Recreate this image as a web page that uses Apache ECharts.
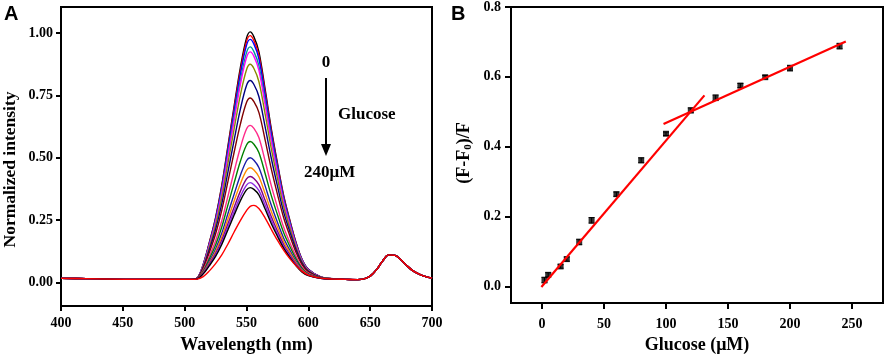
<!DOCTYPE html>
<html>
<head>
<meta charset="utf-8">
<script src="https://cdn.jsdelivr.net/npm/echarts@6/dist/echarts.min.js"></script>
<style>
html, body { margin: 0; padding: 0; background: #fff; }
#chart { width: 886px; height: 359px; }
</style>
</head>
<body>
<div id="chart"></div>
<script>
// ---- panel A: normalized emission spectra, 0 -> 240 uM glucose ----
const waveLeft = [400, 420, 440, 460, 480, 500]
const baseLeft = [0.016, 0.015, 0.013, 0.012, 0.012, 0.012]
const wavePeak = [505, 510, 515, 520, 525, 530, 535, 540, 545, 550, 553, 556, 560, 565, 570, 575, 580, 585, 590, 595, 600, 610, 620]
const waveRight = [630, 640, 645, 650, 655, 660, 665, 670, 675, 680, 685, 690, 695, 700]
const baseRight = [0.012, 0.011, 0.014, 0.025, 0.05, 0.085, 0.11, 0.108, 0.09, 0.065, 0.045, 0.032, 0.023, 0.017]

const peakCurves = [
  [.012, .017, .072, .161, .260, .389, .548, .707, .861, .980, 1.005, .985, .926, .777, .618, .479, .350, .250, .161, .091, .052, .022, .015],
  [.012, .017, .071, .159, .257, .384, .540, .697, .848, .966, .990, .970, .912, .765, .609, .472, .345, .247, .159, .090, .051, .022, .015],
  [.012, .017, .070, .156, .253, .378, .532, .686, .835, .951, .975, .956, .898, .754, .599, .465, .339, .243, .156, .089, .051, .022, .015],
  [.012, .017, .068, .152, .245, .367, .516, .665, .810, .922, .945, .926, .870, .730, .581, .451, .329, .236, .152, .087, .049, .021, .015],
  [.012, .017, .067, .149, .240, .359, .505, .651, .793, .902, .925, .907, .852, .715, .569, .441, .322, .231, .149, .085, .049, .021, .015],
  [.012, .016, .064, .141, .228, .340, .478, .616, .750, .853, .875, .858, .806, .677, .538, .418, .305, .219, .141, .081, .047, .021, .015],
  [.012, .016, .060, .132, .212, .315, .443, .571, .694, .790, .810, .794, .746, .626, .499, .387, .283, .204, .132, .076, .044, .020, .014],
  [.012, .016, .056, .121, .194, .289, .405, .522, .634, .722, .740, .725, .682, .573, .456, .354, .260, .187, .121, .070, .041, .019, .014],
  [.012, .015, .049, .105, .167, .247, .346, .445, .540, .615, .630, .618, .581, .488, .389, .302, .222, .160, .105, .061, .037, .018, .014],
  [.012, .015, .045, .095, .150, .222, .311, .399, .485, .551, .565, .554, .521, .438, .349, .272, .200, .145, .095, .056, .034, .018, .014],
  [.012, .014, .041, .085, .134, .197, .276, .354, .429, .488, .500, .490, .461, .388, .310, .241, .178, .129, .085, .051, .032, .017, .013],
  [.012, .014, .039, .079, .124, .182, .254, .326, .395, .449, .460, .451, .424, .357, .285, .223, .164, .120, .079, .048, .030, .016, .013],
  [.012, .014, .037, .074, .115, .169, .235, .301, .365, .415, .425, .417, .392, .330, .264, .206, .152, .111, .074, .045, .029, .016, .013],
  [.012, .014, .035, .070, .109, .159, .222, .284, .344, .390, .400, .392, .369, .311, .249, .194, .144, .105, .070, .043, .028, .016, .013],
  [.012, .014, .034, .067, .104, .152, .211, .270, .327, .371, .380, .373, .351, .295, .236, .185, .137, .100, .067, .041, .027, .016, .013],
  [.012, .013, .023, .046, .075, .110, .154, .202, .248, .288, .305, .309, .296, .259, .213, .169, .129, .095, .067, .044, .029, .017, .013]
]
const curveColors = ['#000000', '#ff0000', '#0000ff', '#009999', '#ff00ff', '#8a8a00', '#000080', '#800000',
  '#ff2a8a', '#008000', '#1c1ca8', '#ff8c00', '#800080', '#8a2be2', '#000000', '#ff0000']

const yTicksA = [0, 0.25, 0.5, 0.75, 1.0]

// ---- panel B: (F-F0)/F vs glucose ----
const glucose = [2, 5, 15, 20, 30, 40, 60, 80, 100, 120, 140, 160, 180, 200, 240]
const ratio = [0.018, 0.033, 0.057, 0.078, 0.127, 0.189, 0.264, 0.361, 0.437, 0.504, 0.540, 0.575, 0.599, 0.625, 0.688]
const ratioErr = [0.008, 0.006, 0.005, 0.006, 0.008, 0.008, 0.006, 0.007, 0.005, 0.007, 0.008, 0.006, 0.005, 0.008, 0.008]
const fitLow = [[-0.5, -0.002], [131, 0.547]]
const fitHigh = [[98, 0.465], [245, 0.701]]
const xTicksB = [0, 50, 100, 150, 200, 250]
const yTicksB = [0, 0.2, 0.4, 0.6, 0.8]

const serif = "'Liberation Serif', 'DejaVu Serif', serif"
const labelStyle = { color: '#000', fontFamily: serif, fontWeight: 'bold', fontSize: 14 }
const nameStyle = { color: '#000', fontFamily: serif, fontWeight: 'bold', fontSize: 18 }
const blackLine = { onZero: false, lineStyle: { color: '#000', width: 2 } }

let chart = echarts.init(document.getElementById('chart'))

const spectraSeries = peakCurves.map((vals, i) => {
  const xs = waveLeft.concat(wavePeak, waveRight)
  const ys = baseLeft.concat(vals, baseRight)
  return {
    type: 'line',
    xAxisIndex: 0,
    yAxisIndex: 0,
    data: xs.map((x, j) => [x, ys[j]]),
    showSymbol: false,
    smooth: 0.35,
    lineStyle: { color: curveColors[i], width: 1.4 },
    animation: false
  }
})

let option = {
  animation: false,
  grid: [
    { left: 60, top: 7, width: 372, height: 301, show: true, borderColor: '#000', borderWidth: 2 },
    { left: 511, top: 7, width: 372, height: 302, show: true, borderColor: '#000', borderWidth: 2 }
  ],
  xAxis: [
    {
      gridIndex: 0, type: 'value', min: 400, max: 700, interval: 50,
      axisLine: blackLine,
      axisTick: { length: 5, lineStyle: { color: '#000', width: 2 } },
      axisLabel: Object.assign({ margin: 10 }, labelStyle),
      splitLine: { show: false },
      name: 'Wavelength (nm)', nameLocation: 'middle', nameGap: 30, nameTextStyle: nameStyle
    },
    {
      gridIndex: 1, type: 'value', min: -25, max: 275,
      axisLine: blackLine,
      axisTick: { length: 6, customValues: xTicksB, lineStyle: { color: '#000', width: 2 } },
      axisLabel: Object.assign({ margin: 14, customValues: xTicksB }, labelStyle),
      splitLine: { show: false },
      name: 'Glucose (\u03bcM)', nameLocation: 'middle', nameGap: 32, nameTextStyle: nameStyle
    }
  ],
  yAxis: [
    {
      gridIndex: 0, type: 'value', min: -0.095, max: 1.105,
      axisLine: blackLine,
      axisTick: { length: 5, customValues: yTicksA, lineStyle: { color: '#000', width: 2 } },
      axisLabel: Object.assign({ margin: 8, customValues: yTicksA, formatter: v => v.toFixed(2) }, labelStyle),
      splitLine: { show: false },
      name: 'Normalized intensity', nameLocation: 'middle', nameGap: 42,
      nameTextStyle: Object.assign({}, nameStyle, { fontSize: 17.5, padding: [0, 26, 0, 0] })
    },
    {
      gridIndex: 1, type: 'value', min: -0.048, max: 0.8,
      axisLine: blackLine,
      axisTick: { length: 6, customValues: yTicksB, lineStyle: { color: '#000', width: 2 } },
      axisLabel: Object.assign({ margin: 10, customValues: yTicksB, formatter: v => v.toFixed(1) }, labelStyle),
      splitLine: { show: false },
      name: '{n|(F-F}{s|0}{n|)/F}', nameLocation: 'middle', nameGap: 37,
      nameTextStyle: {
        padding: [0, 0, 0, 4],
        rich: {
          n: { color: '#000', fontFamily: serif, fontWeight: 'bold', fontSize: 18, lineHeight: 20 },
          s: { color: '#000', fontFamily: serif, fontWeight: 'bold', fontSize: 11, lineHeight: 10, verticalAlign: 'bottom' }
        }
      }
    }
  ],
  series: [
    ...spectraSeries,
    {
      type: 'custom',
      xAxisIndex: 1,
      yAxisIndex: 1,
      data: glucose.map((g, i) => [g, ratio[i], ratioErr[i]]),
      renderItem: function (params, api) {
        const x = api.value(0), y = api.value(1), e = api.value(2)
        const top = api.coord([x, y + e])
        const bot = api.coord([x, y - e])
        const st = { stroke: '#000', lineWidth: 1 }
        return {
          type: 'group',
          children: [
            { type: 'line', shape: { x1: top[0], y1: top[1], x2: bot[0], y2: bot[1] }, style: st },
            { type: 'line', shape: { x1: top[0] - 3, y1: top[1], x2: top[0] + 3, y2: top[1] }, style: st },
            { type: 'line', shape: { x1: bot[0] - 3, y1: bot[1], x2: bot[0] + 3, y2: bot[1] }, style: st }
          ]
        }
      },
      z: 3
    },
    {
      type: 'scatter',
      xAxisIndex: 1,
      yAxisIndex: 1,
      data: glucose.map((g, i) => [g, ratio[i]]),
      symbol: 'rect',
      symbolSize: 6,
      itemStyle: { color: '#000' },
      z: 4
    },
    {
      type: 'line', xAxisIndex: 1, yAxisIndex: 1, data: fitLow,
      showSymbol: false, lineStyle: { color: '#ff0000', width: 2.2 }, z: 5
    },
    {
      type: 'line', xAxisIndex: 1, yAxisIndex: 1, data: fitHigh,
      showSymbol: false, lineStyle: { color: '#ff0000', width: 2.2 }, z: 5
    }
  ],
  graphic: [
    { type: 'text', left: 4, top: 4, style: { text: 'A', font: "bold 20px 'Liberation Sans', Arial, sans-serif", fill: '#000' } },
    { type: 'text', left: 451, top: 4, style: { text: 'B', font: "bold 20px 'Liberation Sans', Arial, sans-serif", fill: '#000' } },
    { type: 'text', x: 326, y: 63, style: { text: '0', font: "bold 17px 'Liberation Serif', serif", fill: '#000', align: 'center', verticalAlign: 'middle' } },
    { type: 'line', shape: { x1: 326, y1: 78, x2: 326, y2: 147 }, style: { stroke: '#000', lineWidth: 2 } },
    { type: 'polygon', shape: { points: [[321, 144], [331, 144], [326, 156]] }, style: { fill: '#000' } },
    { type: 'text', x: 338, y: 115, style: { text: 'Glucose', font: "bold 17px 'Liberation Serif', serif", fill: '#000', verticalAlign: 'middle' } },
    { type: 'text', x: 304, y: 173, style: { text: '240\u03bcM', font: "bold 17px 'Liberation Serif', serif", fill: '#000', verticalAlign: 'middle' } }
  ]
}

option && chart.setOption(option)
</script>
</body>
</html>
